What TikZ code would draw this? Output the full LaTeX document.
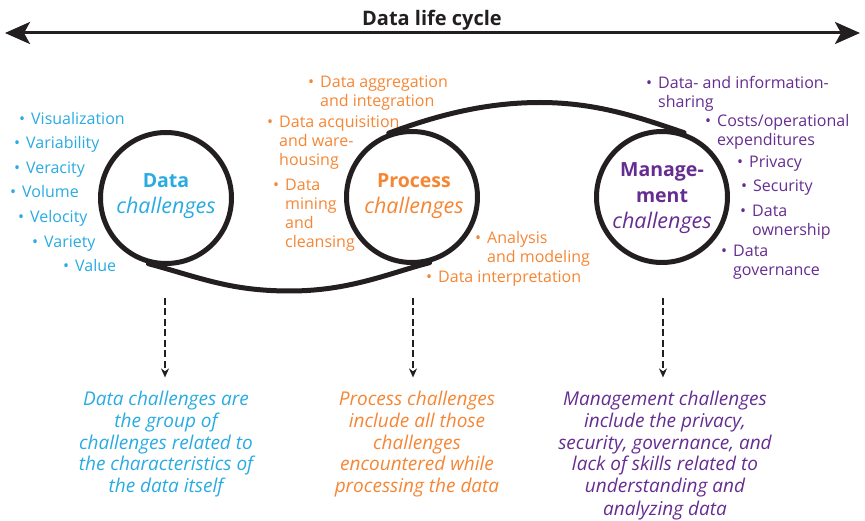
\documentclass[tikz,border=0pt]{standalone}
\usepackage{fontspec}
\setmainfont{Open Sans}
\usetikzlibrary{arrows.meta}
\definecolor{dblue}{RGB}{41,171,226}
\definecolor{dorange}{RGB}{245,134,52}
\definecolor{dpurple}{RGB}{102,45,145}
\definecolor{ink}{RGB}{35,31,32}
\newcommand{\lines}[1]{\begin{tabular}[t]{@{}l@{}}#1\end{tabular}}
\newcommand{\clines}[1]{\begin{tabular}[t]{@{}c@{}}#1\end{tabular}}
\newcommand{\bul}{\llap{\textbullet\hspace{6pt}}}
\newcommand{\cb}{\fontsize{19.5}{26}\selectfont\bfseries}
\newcommand{\ci}{\fontsize{21.5}{26}\selectfont\itshape}
\tikzset{
  listitem/.style={anchor=base west, inner sep=0pt, font=\fontsize{16}{19}\selectfont},
  desc/.style={anchor=base, inner sep=0pt, font=\fontsize{19}{22}\selectfont\itshape},
  clabel/.style={anchor=base, inner sep=0pt, font=\fontsize{19}{26}\selectfont},
  ring/.style={circle, draw=ink, line width=5pt, minimum size=131pt, inner sep=0pt},
  loopline/.style={draw=ink, line width=5pt, line cap=round},
  dasharr/.style={draw=ink, line width=1.4pt, dash pattern=on 7pt off 3.5pt, -{Stealth[length=9pt,width=8pt]}, shorten >=12pt},
  lifearrow/.style={draw=ink, line width=3pt, {Stealth[length=25pt,width=22pt,inset=6pt]}-{Stealth[length=25pt,width=22pt,inset=6pt]}}
}
\begin{document}
\begin{tikzpicture}[x=1pt,y=-1pt]
\useasboundingbox (0,0) rectangle (865,521);

% title and life-cycle arrow
\node[anchor=base, inner sep=0pt, font=\fontsize{20}{24}\selectfont\bfseries, text=ink] (title) at (432,25.7) {Data life cycle};
\coordinate (lifeL) at (5,33);
\coordinate (lifeR) at (860,33);
\draw[lifearrow] (lifeL) -- (lifeR);

% circles
\node[ring] (data) at (166,198) {};
\node[ring] (proc) at (412,197) {};
\node[ring] (mgmt) at (662,197) {};

% loop curves
\coordinate (lowmid) at (290,291);
\coordinate (topmid) at (540,102.5);
\draw[loopline] (data.255) .. controls +(52,14) and +(-60,0) .. (lowmid)
                 .. controls +(60,0) and +(-39,10) .. (proc.285);
\draw[loopline] (proc.110) .. controls +(41,-15) and +(-60,0) .. (topmid)
                 .. controls +(60,0) and +(-39,-13) .. (mgmt.71);

% circle labels
\node[clabel, text=dblue] (dlab) at (166,188) {\clines{{\cb Data}\\{\ci challenges}}};
\node[clabel, text=dorange] (plab) at (414,188) {\clines{{\cb Process}\\{\ci challenges}}};
\node[clabel, text=dpurple] (mlab) at (662,177) {\clines{{\cb Manage-}\\{\cb ment}\\{\ci challenges}}};

% data list
\begin{scope}[every node/.style={listitem, text=dblue}]
\node (b1) at (31,125) {\lines{\bul Visualization}};
\node (b2) at (26,149) {\lines{\bul Variability}};
\node (b3) at (26,174) {\lines{\bul Veracity}};
\node (b4) at (22,198) {\lines{\bul Volume}};
\node (b5) at (30,223) {\lines{\bul Velocity}};
\node (b6) at (44,248) {\lines{\bul Variety}};
\node (b7) at (75,272) {\lines{\bul Value}};
\end{scope}

% process list
\begin{scope}[every node/.style={listitem, text=dorange}]
\node (o1) at (320,88) {\lines{\bul Data aggregation\\and integration}};
\node (o2) at (279,128) {\lines{\bul Data acquisition\\and ware-\\housing}};
\node (o3) at (285,191) {\lines{\bul Data\\mining\\and\\cleansing}};
\node (o4) at (487,244) {\lines{\bul Analysis\\and modeling}};
\node (o5) at (438,283) {\lines{\bul Data interpretation}};
\end{scope}

% management list
\begin{scope}[every node/.style={listitem, text=dpurple}]
\node (p1) at (658,89) {\lines{\bul Data- and information-\\sharing}};
\node (p2) at (717,127) {\lines{\bul Costs/operational\\expenditures}};
\node (p3) at (749,168) {\lines{\bul Privacy}};
\node (p4) at (753,192) {\lines{\bul Security}};
\node (p5) at (752,217) {\lines{\bul Data\\ownership}};
\node (p6) at (733,257) {\lines{\bul Data\\governance}};
\end{scope}

% descriptions
\node[desc, text=dblue] (ddesc) at (166,405) {\clines{Data challenges are\\the group of\\challenges related to\\the characteristics of\\the data itself}};
\node[desc, text=dorange] (pdesc) at (417,405) {\clines{Process challenges\\include all those\\challenges\\encountered while\\processing the data}};
\node[desc, text=dpurple] (mdesc) at (665,405) {\clines{Management challenges\\include the privacy,\\security, governance, and\\lack of skills related to\\understanding and\\analyzing data}};

% dashed arrows
\coordinate (da) at (165,298);
\coordinate (pa) at (413,298);
\coordinate (ma) at (663,298);
\draw[dasharr] (da) -- (da |- ddesc.north);
\draw[dasharr] (pa) -- (pa |- pdesc.north);
\draw[dasharr] (ma) -- (ma |- mdesc.north);
\end{tikzpicture}
\end{document}
